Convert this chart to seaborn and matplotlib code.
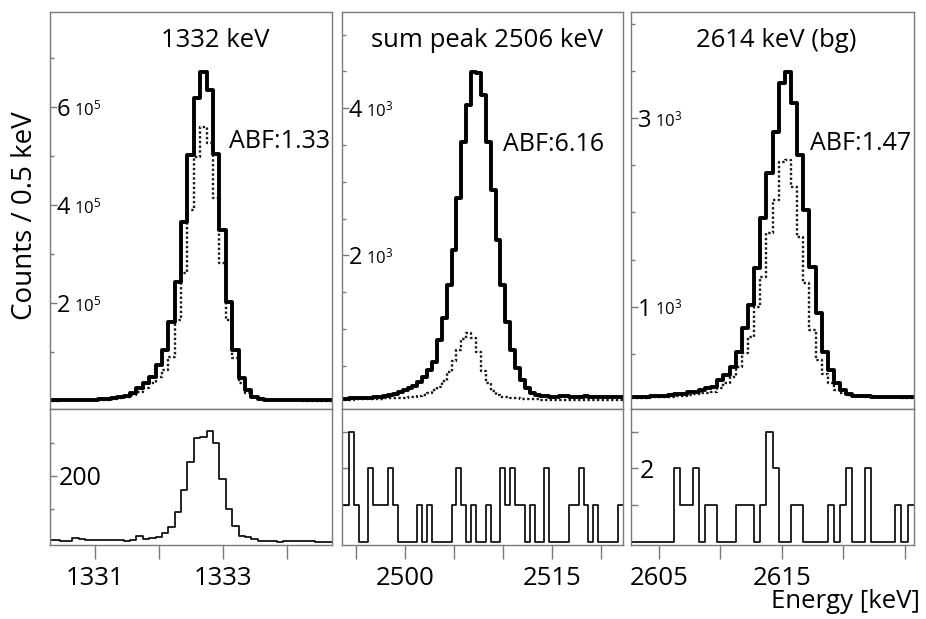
import numpy as np
import pandas as pd
import seaborn as sns
import matplotlib.pyplot as plt
from matplotlib import ticker
from matplotlib.transforms import offset_copy

# --- 1332 keV (bins of 0.1 keV starting at 1330.25) ---
e1_start, e1_width = 1330.25, 0.1
p1_solid = [1500, 1500, 1600, 1700, 1800, 2000, 2200, 2500, 3400, 4000,
            5400, 7500, 10200, 15600, 25900, 36000, 49700, 73500, 104000, 162000,
            243500, 366000, 502000, 618000, 671000, 634700, 505000, 349000, 202700, 104000,
            46000, 22000, 8800, 4000, 2700, 2000, 1800, 1600, 1500, 1500,
            1400, 1400, 1300, 1300, 1300]
p1_dotted = [1000, 1000, 1100, 1100, 1200, 1300, 1500, 1700, 2000, 2700,
             4700, 6100, 8800, 12200, 19000, 25900, 36000, 49700, 63000, 90500,
             165000, 260500, 389800, 498700, 560000, 526000, 413600, 281000, 165000, 87000,
             36000, 15600, 7500, 4700, 3000, 2000, 1600, 1400, 1200, 1100,
             1000, 1000, 1000, 1000, 1000]
p1_low = [5, 6, 3, 3, 10, 7, 4, 4, 4, 6, 6, 6, 2, 5, 16, 8, 11, 15, 25, 45,
          91, 157, 242, 313, 318, 335, 298, 190, 98, 47, 16, 13, 7, 2, 1, 1, 0, 3, 3, 3,
          1, 2, 0, 0, 0]

# --- sum peak 2506 keV (bins of 0.5 keV starting at 2493.25) ---
e2_start, e2_width = 2493.25, 0.5
p2_solid = [50, 50, 55, 55, 60, 60, 65, 70, 80, 90, 100, 120, 140, 170, 200, 230,
            283, 351, 441, 555, 849, 1143, 1596, 2072, 2774, 3544, 4041, 4495, 4472, 4178,
            3544, 2887, 2208, 1596, 1098, 713, 464, 306, 192, 125, 100, 90, 85, 80, 80,
            90, 85, 80, 75, 80, 85, 80, 75, 70, 75, 80, 70, 70, 65]
p2_dotted = [40, 40, 40, 45, 45, 45, 50, 50, 50, 55, 55, 60, 60, 65, 70, 80, 90,
             100, 130, 170, 215, 290, 420, 560, 720, 860, 940, 870, 680, 430, 260, 150, 100,
             80, 70, 60, 55, 50, 50, 45, 45, 40, 40, 40, 40, 40, 40, 40, 40, 40, 40, 40, 40,
             40, 40, 40, 40, 40, 40]
p2_low = [1, 1, 3, 1, 0, 0, 2, 1, 1, 1, 2, 1, 0, 0, 0, 0, 1, 0, 1, 0, 0, 0, 0, 1, 2,
          1, 0, 1, 0, 0, 1, 0, 0, 2, 1, 2, 1, 1, 0, 1, 0, 0, 2, 0, 0, 0, 0, 1, 1, 2,
          1, 0, 1, 0, 0, 0, 0, 1, 1]

# --- 2614 keV background (bins of 0.5 keV starting at 2602.75) ---
e3_start, e3_width = 2602.75, 0.5
p3_solid = [45, 45, 45, 50, 50, 55, 60, 70, 70, 97, 97, 115, 134, 150, 221, 275,
            363, 522, 770, 1018, 1407, 1938, 2415, 2858, 3371, 3492, 3159, 2611, 2025, 1424,
            929, 523, 328, 186, 115, 70, 55, 50, 50, 45, 45, 45, 40, 45, 40, 40]
p3_dotted = [35, 35, 35, 40, 40, 40, 45, 50, 55, 60, 70, 80, 80, 97, 133, 186,
             257, 363, 505, 682, 1000, 1318, 1779, 2133, 2540, 2560, 2274, 1743, 1248, 752,
             435, 290, 190, 120, 80, 65, 55, 50, 45, 45, 40, 40, 40, 40, 35, 35]
p3_low = [0, 0, 0, 0, 0, 0, 0, 2, 1, 1, 2, 0, 1, 1, 0, 0, 0, 1, 1, 1, 0, 1, 3, 2,
          0, 0, 1, 1, 0, 0, 0, 0, 1, 0, 1, 2, 0, 0, 2, 0, 0, 0, 0, 1, 0, 1]

titles = ['1332 keV', 'sum peak 2506 keV', '2614 keV (bg)']
abf_labels = ['ABF:1.33', 'ABF:6.16', 'ABF:1.47']
exponents = [r'$10^{5}$', r'$10^{3}$', r'$10^{3}$']

sns.set_theme(style='white')
plt.rcParams['font.family'] = ['Open Sans', 'DejaVu Sans']
plt.rcParams['mathtext.fontset'] = 'custom'
plt.rcParams['mathtext.rm'] = 'Open Sans'
plt.rcParams['mathtext.it'] = 'Open Sans:italic'
plt.rcParams['text.color'] = 'black'

W, H = 926, 619
fig = plt.figure(figsize=(W / 100, H / 100), dpi=100)
GRAY = '#7a7a7a'


def px_axes(x0, x1, y0, y1):
    return fig.add_axes([x0 / W, 1 - y1 / H, (x1 - x0) / W, (y1 - y0) / H])


def steps(ax, start, width, values, **kw):
    edges = start + width * np.arange(len(values) + 1)
    df = pd.DataFrame({'energy': edges[:-1] + width / 2, 'counts': values})
    sns.histplot(data=df, x='energy', weights='counts', bins=list(edges), element='step',
                 fill=False, ax=ax, **kw)
    ax.set_xlabel('')
    ax.set_ylabel('')


def frame(ax):
    for s in ax.spines.values():
        s.set_color(GRAY)
        s.set_linewidth(1.0)


cols = [(50, 332), (342, 623), (631, 914)]
panels = [
    dict(start=e1_start, width=e1_width, solid=p1_solid, dotted=p1_dotted, low=p1_low,
         xlim=(1330.3, 1334.71), top_ylim=(-16300, 794000), low_ylim=(-10, 402),
         top_major=[2e5, 4e5, 6e5], top_lab=['2', '4', '6'], top_minor=[1e5, 3e5, 5e5, 7e5],
         low_major=[200], low_lab=['200'], low_minor=[100, 300],
         xt=[1331, 1332, 1333, 1334], xt_lab=['1331', '', '1333', ''],
         title_x=0.585, abf=(0.635, 0.675)),
    dict(start=e2_start, width=e2_width, solid=p2_solid, dotted=p2_dotted, low=p2_low,
         xlim=(2493.54, 2522.28), top_ylim=(-88, 5306), low_ylim=(-0.09, 3.62),
         top_major=[2000, 4000], top_lab=['2', '4'],
         top_minor=[500, 1000, 1500, 2500, 3000, 3500, 4500, 5000],
         low_major=[1, 2, 3], low_lab=['', '', ''], low_minor=[],
         xt=[2495, 2500, 2505, 2510, 2515, 2520], xt_lab=['', '2500', '', '', '2515', ''],
         title_x=0.515, abf=(0.573, 0.667)),
    dict(start=e3_start, width=e3_width, solid=p3_solid, dotted=p3_dotted, low=p3_low,
         xlim=(2602.72, 2625.77), top_ylim=(-86, 4128), low_ylim=(-0.09, 3.62),
         top_major=[1000, 3000], top_lab=['1', '3'],
         top_minor=[500, 1500, 2000, 2500, 3500, 4000],
         low_major=[1, 2, 3], low_lab=['', '2', ''], low_minor=[],
         xt=[2605, 2610, 2615, 2620, 2625], xt_lab=['2605', '', '2615', '', ''],
         title_x=0.514, abf=(0.633, 0.669)),
]

for i, p in enumerate(panels):
    x0, x1 = cols[i]
    ax = px_axes(x0, x1, 12, 409)
    axb = px_axes(x0, x1, 409, 545)

    # upper: thick solid and dotted spectra
    steps(ax, p['start'], p['width'], p['dotted'], color='#1a1a1a', linewidth=1.7,
          linestyle=(0, (1, 1)))
    steps(ax, p['start'], p['width'], p['solid'], color='black', linewidth=2.8)
    ax.set_xlim(p['xlim'])
    ax.set_ylim(p['top_ylim'])
    ax.yaxis.set_major_locator(ticker.FixedLocator(p['top_major']))
    ax.yaxis.set_major_formatter(ticker.FixedFormatter(p['top_lab']))
    ax.yaxis.set_minor_locator(ticker.FixedLocator(p['top_minor']))
    ax.tick_params(axis='x', which='both', bottom=False, labelbottom=False)
    ax.tick_params(axis='y', which='major', left=True, direction='in', length=5,
                   width=1, color=GRAY, labelcolor='black', pad=-5, labelsize=17)
    ax.tick_params(axis='y', which='minor', left=True, direction='in', length=3,
                   width=1, color=GRAY)
    for lbl in ax.get_yticklabels():
        lbl.set_horizontalalignment('left')
    tr = offset_copy(ax.get_yaxis_transform(), fig=fig, x=24, y=-8, units='dots')
    for yv in p['top_major']:
        ax.text(0, yv, exponents[i], transform=tr, fontsize=12, ha='left', va='baseline')
    frame(ax)
    ax.text(p['title_x'], 0.927, titles[i], transform=ax.transAxes, fontsize=18.5,
            ha='center', va='center')
    ax.text(p['abf'][0], p['abf'][1], abf_labels[i], transform=ax.transAxes,
            fontsize=18, ha='left', va='center')

    # lower: thin spectrum
    steps(axb, p['start'], p['width'], p['low'], color='black', linewidth=1.2)
    axb.set_xlim(p['xlim'])
    axb.set_ylim(p['low_ylim'])
    axb.xaxis.set_major_locator(ticker.FixedLocator(p['xt']))
    axb.xaxis.set_major_formatter(ticker.FixedFormatter(p['xt_lab']))
    axb.yaxis.set_major_locator(ticker.FixedLocator(p['low_major']))
    axb.yaxis.set_major_formatter(ticker.FixedFormatter(p['low_lab']))
    axb.yaxis.set_minor_locator(ticker.FixedLocator(p['low_minor']))
    axb.tick_params(axis='x', which='major', bottom=True, direction='out', length=10,
                    width=1, color=GRAY, labelcolor='black', pad=5, labelsize=18.5)
    axb.tick_params(axis='y', which='major', left=True, direction='in', length=5,
                    width=1, color=GRAY, labelcolor='black', pad=-6, labelsize=18)
    axb.tick_params(axis='y', which='minor', left=True, direction='in', length=3,
                    width=1, color=GRAY)
    for lbl in axb.get_yticklabels():
        lbl.set_horizontalalignment('left')
    frame(axb)

fig.text(25 / W, 1 - 216 / H, 'Counts / 0.5 keV', rotation=90, fontsize=20,
         ha='center', va='center')
fig.text(920 / W, 1 - 601 / H, 'Energy [keV]', fontsize=18.5, ha='right', va='center')

fig.savefig('out.png', dpi=100)
